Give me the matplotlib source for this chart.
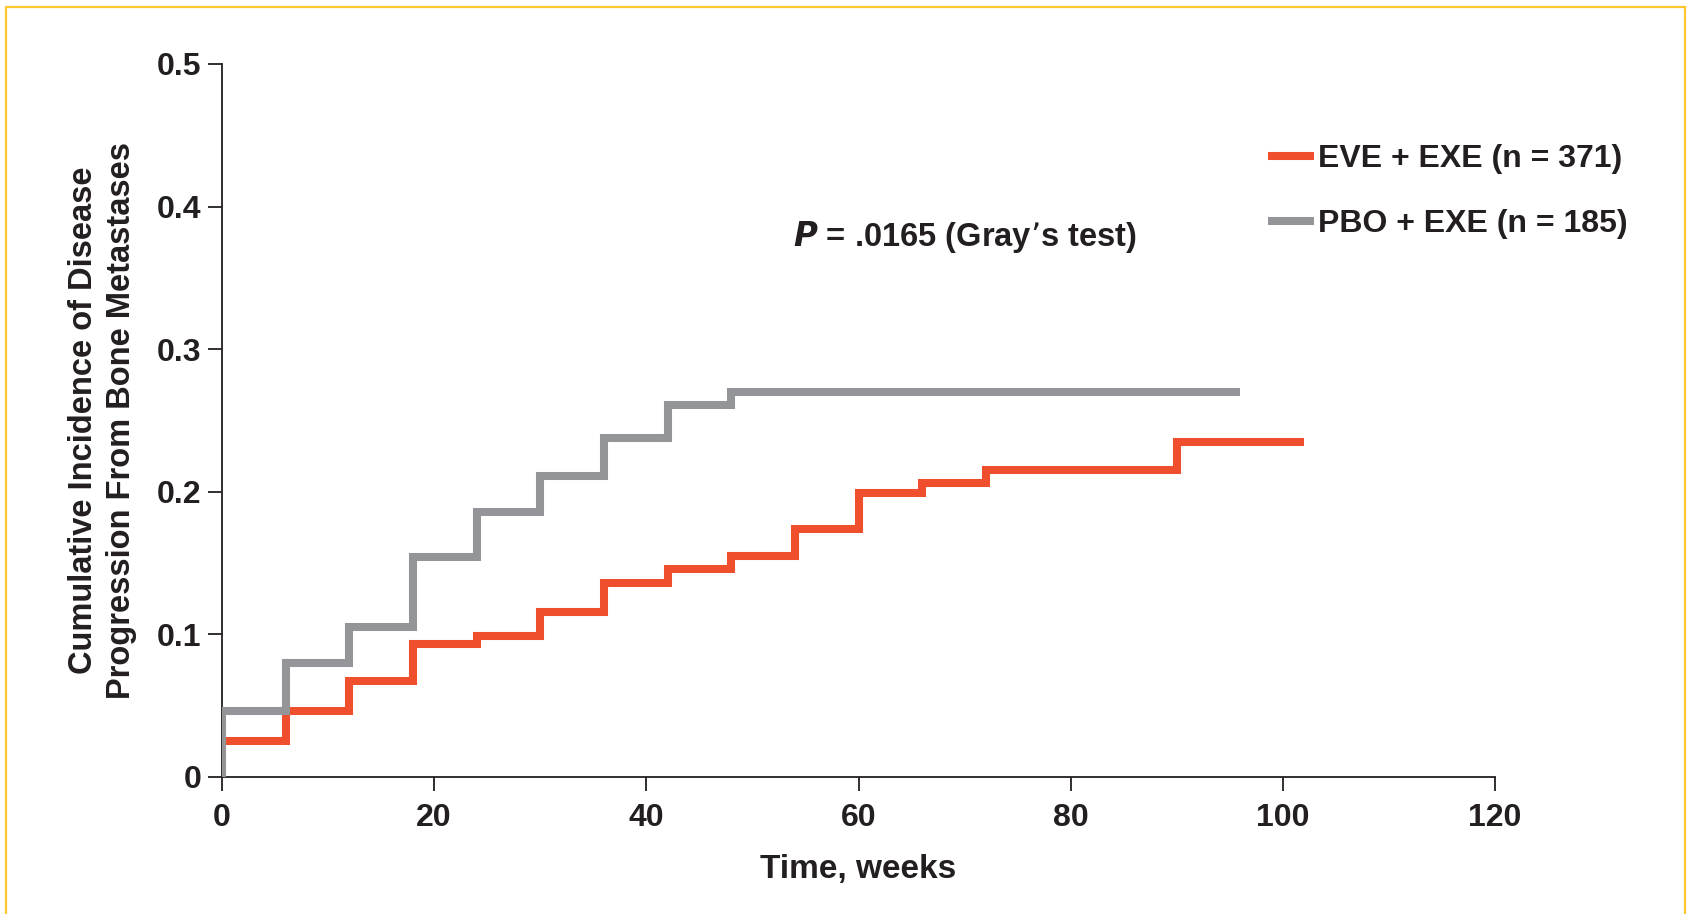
import matplotlib
matplotlib.use("Agg")
import matplotlib.pyplot as plt
from matplotlib.patches import Rectangle

plt.rcParams['font.family'] = ['Liberation Sans', 'DejaVu Sans']
plt.rcParams['font.weight'] = 'bold'

# Data (weeks, cumulative incidence)
eve_weeks = [0, 0, 6, 12, 18, 24, 30, 36, 42, 48, 54, 60, 66, 72, 90, 102]
eve_values = [0, 0.025, 0.046, 0.067, 0.093, 0.099, 0.116, 0.136, 0.146, 0.155, 0.174, 0.199, 0.206, 0.215, 0.235, 0.235]
pbo_weeks = [0, 0, 6, 12, 18, 24, 30, 36, 42, 48, 96]
pbo_values = [0, 0.046, 0.080, 0.105, 0.154, 0.186, 0.211, 0.238, 0.261, 0.270, 0.270]

eve_label = "EVE + EXE (n = 371)"
pbo_label = "PBO + EXE (n = 185)"
x_ticks = [0, 20, 40, 60, 80, 100, 120]
y_ticks = [0, 0.1, 0.2, 0.3, 0.4, 0.5]
y_tick_labels = ["0", "0.1", "0.2", "0.3", "0.4", "0.5"]

red = "#F04F2D"
grey = "#939598"
ink = "#231F20"

fig = plt.figure(figsize=(16.92, 9.14), dpi=100)
ax = fig.add_axes([0.1312, 0.1499, 0.7524, 0.7801])

ax.step(pbo_weeks, pbo_values, where='post', color=grey, lw=5.8, label=pbo_label,
        solid_capstyle='butt', solid_joinstyle='miter', zorder=3)
ax.step(eve_weeks, eve_values, where='post', color=red, lw=5.8, label=eve_label,
        solid_capstyle='butt', solid_joinstyle='miter', zorder=2)

ax.set_xlim(0, 120)
ax.set_ylim(0, 0.5)
ax.set_xticks(x_ticks)
ax.set_yticks(y_ticks)
ax.set_yticklabels(y_tick_labels)
for s in ['top', 'right']:
    ax.spines[s].set_visible(False)
for s in ['left', 'bottom']:
    ax.spines[s].set_color(ink)
    ax.spines[s].set_linewidth(1.3)
ax.tick_params(axis='both', direction='out', length=10, width=1.3, color=ink,
               labelsize=23, labelcolor=ink)
ax.tick_params(axis='x', pad=9)
ax.tick_params(axis='y', pad=5)
for lab in ax.get_xticklabels() + ax.get_yticklabels():
    lab.set_fontweight('bold')

ax.set_xlabel("Time, weeks", fontsize=24, fontweight='bold', color=ink, labelpad=15)
ax.set_ylabel("Cumulative Incidence of Disease\nProgression From Bone Metastases",
              fontsize=23.5, fontweight='bold', color=ink, labelpad=14, linespacing=1.32)

ax.text(0.5837, 0.7575, r"$\bf{\it{P}}$ = .0165 (Gray’s test)", transform=ax.transAxes,
        fontsize=23.5, fontweight='bold', color=ink, ha='center', va='center')

handles, labels = ax.get_legend_handles_labels()
leg = ax.legend(handles[::-1], labels[::-1], loc='upper left', bbox_to_anchor=(0.8217, 0.888),
                frameon=False, fontsize=23, handlelength=1.45, handletextpad=0.1,
                labelspacing=1.1, borderaxespad=0, borderpad=0)
for t in leg.get_texts():
    t.set_fontweight('bold')
    t.set_color(ink)

# outer yellow frame
fig.patches.append(Rectangle((6/1692, -0.05), (1685-6)/1692, 1 - 7/914 + 0.05,
                             transform=fig.transFigure, fill=False, edgecolor='#FDC82F',
                             lw=1.6, clip_on=False))

fig.savefig("out.png", dpi=100)
